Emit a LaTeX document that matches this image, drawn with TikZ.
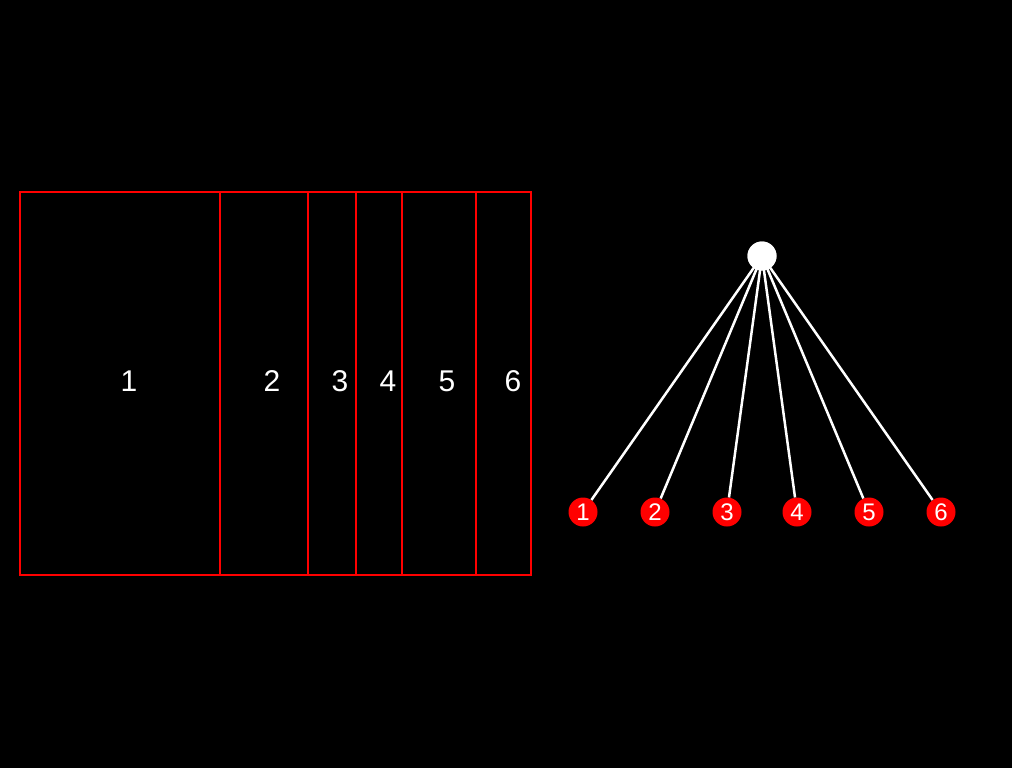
\documentclass[tikz,border=0pt]{standalone}
\usepackage{fontspec}
\setmainfont{Liberation Sans}
\definecolor{redline}{RGB}{255,0,0}
\begin{document}
\begin{tikzpicture}[x=1pt,y=-1pt,
  part/.style={draw=redline,line width=2pt},
  lbl/.style={text=white,font=\fontsize{30}{30}\selectfont,inner sep=0pt},
  leaf/.style={circle,fill=redline,minimum size=29pt,inner sep=0pt,text=white,font=\fontsize{24}{24}\selectfont},
  root/.style={circle,fill=white,minimum size=29pt,inner sep=0pt},
  edge/.style={draw=white,line width=2.5pt}]
\fill[black] (0,0) rectangle (1012,768);
\useasboundingbox (0,0) rectangle (1012,768);
% rectangle parts
\draw[draw=redline,line width=1.5pt] (20,192) rectangle (531,575);
\foreach \x in {219.5,308,356,402,476} \draw[part] (\x,192) -- (\x,575);
\node[lbl] (l1) at (129,381) {1};
\node[lbl] (l2) at (272,381) {2};
\node[lbl] (l3) at (340,381) {3};
\node[lbl] (l4) at (388,381) {4};
\node[lbl] (l5) at (447,381) {5};
\node[lbl] (l6) at (513,381) {6};
% tree
\node[root] (r) at (762,256) {};
\node[leaf] (n1) at (583,512) {1};
\node[leaf] (n2) at (655,512) {2};
\node[leaf] (n3) at (727,512) {3};
\node[leaf] (n4) at (797,512) {4};
\node[leaf] (n5) at (869,512) {5};
\node[leaf] (n6) at (941,512) {6};
\foreach \n in {n1,n2,n3,n4,n5,n6} \draw[edge] (r.center) -- (\n);
\node[root] at (762,256) {};
\end{tikzpicture}
\end{document}
